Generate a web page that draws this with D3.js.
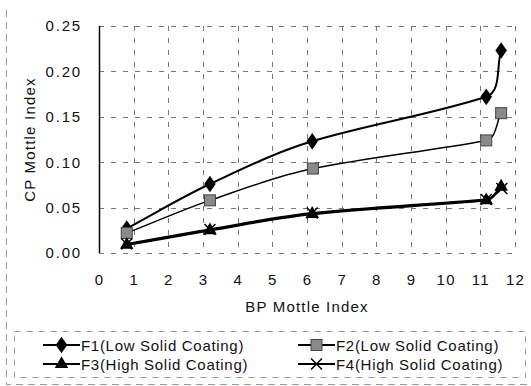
<!DOCTYPE html>
<html>
<head>
<meta charset="utf-8">
<script src="https://cdn.jsdelivr.net/npm/d3@7/dist/d3.min.js"></script>
<style>
  html, body { margin: 0; padding: 0; background: #fff; }
  svg { display: block; font-family: "Liberation Sans", Arial, sans-serif; }
</style>
</head>
<body>
<svg id="chart" width="531" height="386"></svg>
<script>
// BP mottle index (x) for each measurement point
const bpF1 = [0.8, 3.2, 6.15, 11.17, 11.6];
const bpF2 = [0.8, 3.2, 6.17, 11.17, 11.6];
const bpF3 = [0.8, 3.2, 6.15, 11.17, 11.6];
const bpF4 = [0.8, 3.2, 6.15, 11.17, 11.62];

// CP mottle index (y) for each series
const cpF1 = [0.027, 0.076, 0.123, 0.172, 0.223];
const cpF2 = [0.022, 0.058, 0.093, 0.124, 0.154];
const cpF3 = [0.009, 0.025, 0.043, 0.058, 0.073];
const cpF4 = [0.010, 0.026, 0.044, 0.059, 0.071];

const seriesNames = [
  "F1(Low Solid Coating)",
  "F2(Low Solid Coating)",
  "F3(High Solid Coating)",
  "F4(High Solid Coating)"
];

const xTicks = [0, 1, 2, 3, 4, 5, 6, 7, 8, 9, 10, 11, 12];
const yTicks = [0.00, 0.05, 0.10, 0.15, 0.20, 0.25];

const svg = d3.select("#chart");

const x = d3.scaleLinear().domain([0, 12]).range([99, 515]);
const y = d3.scaleLinear().domain([0, 0.25]).range([253, 26]);

const FONT = 15;
const SPACING = 1.2;

// outer frame (dashed, light)
svg.append("path")
  .attr("d", "M6.5,10 V384.5 H527")
  .attr("fill", "none").attr("stroke", "#999").attr("stroke-width", 1)
  .attr("stroke-dasharray", "7,5");

// grid
const grid = svg.append("g").attr("stroke", "#777").attr("stroke-width", 1)
  .attr("stroke-dasharray", "5,7");
grid.selectAll("line.v").data(xTicks.slice(1)).join("line")
  .attr("x1", d => Math.round(x(d)) + 0.5).attr("x2", d => Math.round(x(d)) + 0.5)
  .attr("y1", y(0.25)).attr("y2", y(0));
grid.selectAll("line.h").data(yTicks).join("line")
  .attr("x1", x(0)).attr("x2", x(12))
  .attr("y1", d => Math.round(y(d)) + 0.5).attr("y2", d => Math.round(y(d)) + 0.5);

// y axis line
svg.append("line")
  .attr("x1", x(0) + 0.5).attr("x2", x(0) + 0.5)
  .attr("y1", y(0.25)).attr("y2", y(0))
  .attr("stroke", "#000").attr("stroke-width", 1.5);

// axes (labels only)
const yAxis = d3.axisLeft(y).tickValues(yTicks).tickFormat(d3.format(".2f")).tickSize(0).tickPadding(17);
svg.append("g").attr("transform", `translate(${x(0)},0)`).call(yAxis)
  .call(g => g.select(".domain").remove())
  .selectAll("text").attr("font-size", FONT).attr("fill", "#111")
  .attr("letter-spacing", 1.8)
  .attr("font-family", "Liberation Sans, Arial, sans-serif");

const xAxis = d3.axisBottom(x).tickValues(xTicks).tickFormat(d3.format("d")).tickSize(0).tickPadding(21);
svg.append("g").attr("transform", `translate(0,${y(0)})`).call(xAxis)
  .call(g => g.select(".domain").remove())
  .selectAll("text").attr("font-size", FONT).attr("fill", "#111")
  .attr("letter-spacing", 1.2)
  .attr("font-family", "Liberation Sans, Arial, sans-serif");

// axis titles
svg.append("text")
  .attr("transform", `translate(35,${(y(0) + y(0.25)) / 2}) rotate(-90)`)
  .attr("text-anchor", "middle").attr("font-size", FONT).attr("letter-spacing", SPACING)
  .attr("fill", "#111").text("CP Mottle Index");
svg.append("text")
  .attr("x", (x(0) + x(12)) / 2).attr("y", 312)
  .attr("text-anchor", "middle").attr("font-size", FONT).attr("letter-spacing", SPACING)
  .attr("fill", "#111").text("BP Mottle Index");

// smoothed polyline through scaled points: cubic Bezier segments whose
// tangents lean toward the longer neighbouring chord
function smoothPath(pts) {
  const n = pts.length;
  const unit = (a, b) => {
    const dx = b[0] - a[0], dy = b[1] - a[1], l = Math.hypot(dx, dy) || 1;
    return [dx / l, dy / l, l];
  };
  const tan = pts.map((p, i) => {
    if (i === 0) return unit(p, pts[1]);
    if (i === n - 1) return unit(pts[n - 2], p);
    const ul = unit(pts[i - 1], p), ur = unit(p, pts[i + 1]);
    const wl = ul[2] * ul[2], wr = ur[2] * ur[2];
    return unit([0, 0], [ul[0] * wl + ur[0] * wr, ul[1] * wl + ur[1] * wr]);
  });
  const path = d3.path();
  path.moveTo(pts[0][0], pts[0][1]);
  for (let i = 0; i < n - 1; i++) {
    const a = pts[i], b = pts[i + 1];
    const L = Math.hypot(b[0] - a[0], b[1] - a[1]) / 3;
    path.bezierCurveTo(
      a[0] + tan[i][0] * L, a[1] + tan[i][1] * L,
      b[0] - tan[i + 1][0] * L, b[1] - tan[i + 1][1] * L,
      b[0], b[1]);
  }
  return path.toString();
}

const series = [
  { xs: bpF1, ys: cpF1, marker: "diamond", width: 2 },
  { xs: bpF2, ys: cpF2, marker: "square", width: 1.5 },
  { xs: bpF3, ys: cpF3, marker: "triangle", width: 2.5 },
  { xs: bpF4, ys: cpF4, marker: "cross", width: 2 }
];
series.forEach(s => {
  s.pts = s.xs.map((v, i) => [x(v), y(s.ys[i])]);
});

const plot = svg.append("g");
series.forEach(s => {
  plot.append("path").attr("d", smoothPath(s.pts))
    .attr("fill", "none").attr("stroke", "#000").attr("stroke-width", s.width);
});

function drawMarker(g, type, cx, cy) {
  if (type === "diamond") {
    g.append("path").attr("d", d3.symbol(d3.symbolDiamond, 80)())
      .attr("transform", `translate(${cx},${cy}) scale(1.2,1)`)
      .attr("fill", "#000");
  } else if (type === "square") {
    g.append("rect").attr("x", cx - 5.5).attr("y", cy - 5.5).attr("width", 11).attr("height", 11)
      .attr("fill", "#8a8a8a").attr("stroke", "#444").attr("stroke-width", 1);
  } else if (type === "triangle") {
    g.append("path").attr("d", d3.symbol(d3.symbolTriangle, 80)())
      .attr("transform", `translate(${cx},${cy})`).attr("fill", "#000");
  } else {
    g.append("path").attr("d", d3.symbol(d3.symbolX, 80)())
      .attr("transform", `translate(${cx},${cy})`)
      .attr("fill", "none").attr("stroke", "#000").attr("stroke-width", 1.5);
  }
}

series.forEach(s => {
  s.pts.forEach(p => drawMarker(plot, s.marker, p[0], p[1]));
});

// legend
svg.append("rect")
  .attr("x", 14.5).attr("y", 331.5).attr("width", 511).attr("height", 46)
  .attr("fill", "none").attr("stroke", "#999").attr("stroke-dasharray", "6,6");
const legPos = [[43, 345], [298, 345], [43, 364], [298, 364]];
series.forEach((s, i) => {
  const [lx, ly] = legPos[i];
  const g = svg.append("g");
  g.append("line").attr("x1", lx).attr("x2", lx + 37).attr("y1", ly).attr("y2", ly)
    .attr("stroke", "#000").attr("stroke-width", 2);
  drawMarker(g, s.marker, lx + 18.5, ly);
  g.append("text").attr("x", lx + 38).attr("y", ly + 5.5)
    .attr("font-size", FONT).attr("letter-spacing", 0.7).attr("fill", "#111")
    .text(seriesNames[i]);
});
</script>
</body>
</html>
